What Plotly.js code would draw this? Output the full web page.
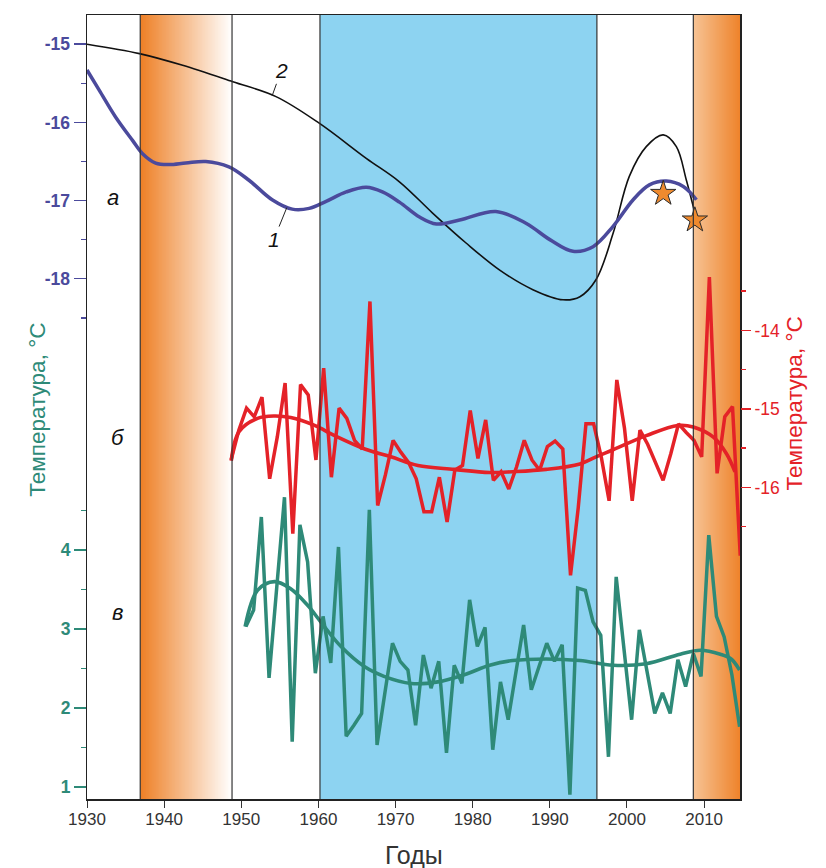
<!DOCTYPE html>
<html><head><meta charset="utf-8">
<script src="https://cdn.plot.ly/plotly-3.0.1.min.js"></script>
<style>html,body{margin:0;padding:0;background:#fff}#chart{width:826px;height:868px}</style>
</head><body><div id="chart"></div>
<script>
// ---- (а) curve 1: smoothed temperature, left purple axis
const curveAYears = [1930.0, 1931.6, 1933.7, 1935.9, 1937.2, 1938.9, 1940.6, 1942.8, 1945.4, 1948.4, 1951.0, 1954.0, 1956.6, 1958.8, 1961.0, 1963.6, 1966.2, 1968.3, 1970.5, 1973.1, 1975.3, 1978.3, 1983.0, 1986.9, 1990.0, 1993.0, 1995.6, 1998.2, 2000.8, 2002.9, 2005.1, 2007.3, 2009.0];
const curveAValues = [-15.33, -15.59, -15.93, -16.23, -16.40, -16.52, -16.54, -16.52, -16.50, -16.57, -16.74, -16.99, -17.11, -17.10, -17.01, -16.89, -16.83, -16.89, -17.02, -17.21, -17.30, -17.25, -17.14, -17.29, -17.50, -17.65, -17.59, -17.33, -16.99, -16.80, -16.75, -16.82, -16.99];
// ---- (а) curve 2
const curve2Years = [1930.0, 1936.8, 1942.4, 1948.9, 1954.5, 1960.1, 1966.2, 1970.5, 1974.8, 1979.1, 1983.5, 1987.8, 1991.7, 1993.9, 1996.0, 1998.2, 2000.3, 2002.5, 2004.7, 2006.4, 2007.7, 2008.8];
const curve2Values = [-15.00, -15.12, -15.27, -15.48, -15.67, -16.01, -16.46, -16.76, -17.16, -17.54, -17.89, -18.14, -18.27, -18.23, -18.01, -17.42, -16.69, -16.31, -16.16, -16.31, -16.74, -17.16];
// ---- stars
const starYears = [2004.7, 2008.8];
const starValues = [-16.91, -17.25];
// ---- (б) annual temperature, right red axis
const redYears = [1949,1950,1951,1952,1953,1954,1955,1956,1957,1958,1959,1960,1961,1962,1963,1964,1965,1966,1967,1968,1969,1970,1971,1972,1973,1974,1975,1976,1977,1978,1979,1980,1981,1982,1983,1984,1985,1986,1987,1988,1989,1990,1991,1992,1993,1994,1995,1996,1997,1998,1999,2000,2001,2002,2003,2004,2005,2006,2007,2008,2009,2010,2011,2012,2013,2014,2015];
const redValues = [-15.65, -15.27, -14.99, -15.10, -14.85, -15.89, -15.35, -14.67, -16.59, -14.69, -14.82, -15.65, -14.48, -15.87, -14.99, -15.12, -15.40, -15.51, -13.63, -16.23, -15.84, -15.40, -15.55, -15.68, -15.89, -16.31, -16.31, -15.87, -16.44, -15.78, -15.72, -15.02, -15.63, -15.14, -15.91, -15.80, -16.02, -15.74, -15.40, -15.65, -15.78, -15.48, -15.41, -15.51, -17.12, -16.26, -15.19, -15.19, -15.62, -16.17, -14.63, -15.25, -16.17, -15.27, -15.45, -15.68, -15.91, -15.57, -15.19, -15.30, -15.40, -15.61, -13.32, -15.82, -15.10, -14.97, -16.87];
const redTrendYears = [1948.7, 1949.7, 1952.1, 1954.3, 1956.4, 1959.5, 1962.1, 1966.0, 1969.4, 1972.9, 1977.6, 1982.2, 1985.2, 1989.5, 1993.9, 1996.0, 1998.2, 2002.5, 2006.6, 2008.6, 2011.2, 2012.9, 2014.0];
const redTrendValues = [-15.66, -15.29, -15.12, -15.09, -15.11, -15.21, -15.34, -15.51, -15.61, -15.72, -15.77, -15.81, -15.80, -15.77, -15.70, -15.61, -15.52, -15.34, -15.21, -15.23, -15.36, -15.57, -15.80];
// ---- (в) annual values, left teal axis
const tealYears = [1951,1952,1953,1954,1955,1956,1957,1958,1959,1960,1961,1962,1963,1964,1965,1966,1967,1968,1969,1970,1971,1972,1973,1974,1975,1976,1977,1978,1979,1980,1981,1982,1983,1984,1985,1986,1987,1988,1989,1990,1991,1992,1993,1994,1995,1996,1997,1998,1999,2000,2001,2002,2003,2004,2005,2006,2007,2008,2009,2010,2011,2012,2013,2014,2015];
const tealValues = [3.03, 3.24, 4.42, 2.38, 3.53, 4.67, 1.57, 4.32, 3.85, 2.44, 3.16, 2.57, 4.04, 1.64, 1.78, 1.93, 4.51, 1.53, 2.18, 2.82, 2.59, 2.48, 1.78, 2.67, 2.25, 2.59, 1.43, 2.54, 2.31, 3.37, 2.78, 3.02, 1.47, 2.33, 1.85, 2.46, 3.05, 2.23, 2.52, 2.82, 2.59, 2.80, 0.90, 3.52, 3.49, 3.09, 2.92, 1.38, 3.66, 2.73, 1.85, 2.99, 2.46, 1.93, 2.19, 1.93, 2.61, 2.27, 2.69, 2.40, 4.19, 3.16, 2.90, 2.42, 1.76];
const tealTrendYears = [1950.5, 1952.1, 1954.3, 1956.4, 1958.6, 1960.3, 1962.9, 1966.0, 1968.5, 1972.0, 1975.5, 1978.9, 1982.2, 1985.2, 1989.5, 1993.9, 1998.2, 2002.5, 2006.9, 2009.5, 2012.1, 2013.5, 2014.6];
const tealTrendValues = [3.03, 3.49, 3.60, 3.51, 3.30, 3.09, 2.78, 2.52, 2.40, 2.31, 2.33, 2.42, 2.54, 2.60, 2.62, 2.60, 2.54, 2.56, 2.68, 2.73, 2.68, 2.62, 2.48];
// ---- periods (boundaries as drawn)
const warmPeriods = [[1936.9, 1948.8], [2008.6, 2015]];
const coldPeriod = [1960.2, 1996.1];
const boundaries = [1936.9, 1948.8, 1960.2, 1996.1, 2008.6];
const xTicks = [1930, 1940, 1950, 1960, 1970, 1980, 1990, 2000, 2010];

const PURPLE = '#4B4A9C', TEAL = '#2E8A78', RED = '#E42228', ORANGE = '#EE8026';
const FONT = 'Liberation Sans, Arial, sans-serif';
const redShift = -0.32, tealShift = -0.4;

function bandHeatmap(x0, x1, cStart, cEnd) {
  const n = 120, xs = [], z = [];
  for (let i = 0; i <= n; i++) xs.push(x0 + (x1 - x0) * i / n);
  for (let i = 0; i < n; i++) z.push(i / (n - 1));
  return {type: 'heatmap', x: xs, y: [-30, -10], z: [z], xaxis: 'x', yaxis: 'y',
    colorscale: [[0, cStart], [1, cEnd]], zmin: 0, zmax: 1, showscale: false, hoverinfo: 'skip', zsmooth: false};
}

const traces = [
  bandHeatmap(warmPeriods[0][0], warmPeriods[0][1], ORANGE, '#FFFFFF'),
  bandHeatmap(warmPeriods[1][0], warmPeriods[1][1], '#F6C394', ORANGE),
  {type: 'scatter', mode: 'lines', x: tealTrendYears, y: tealTrendValues, yaxis: 'y2',
   line: {color: TEAL, width: 3.6, shape: 'spline', smoothing: 1}},
  {type: 'scatter', mode: 'lines', x: tealYears.map(v => v + tealShift), y: tealValues, yaxis: 'y2',
   line: {color: TEAL, width: 3.5}},
  {type: 'scatter', mode: 'lines', x: redTrendYears, y: redTrendValues, yaxis: 'y3',
   line: {color: RED, width: 3.6, shape: 'spline', smoothing: 1}},
  {type: 'scatter', mode: 'lines', x: redYears.map(v => v + redShift), y: redValues, yaxis: 'y3',
   line: {color: RED, width: 3.5}},
  {type: 'scatter', mode: 'lines', x: curve2Years, y: curve2Values, yaxis: 'y',
   line: {color: '#111', width: 1.6, shape: 'spline', smoothing: 1}},
  {type: 'scatter', mode: 'lines', x: curveAYears, y: curveAValues, yaxis: 'y',
   line: {color: PURPLE, width: 3.5, shape: 'spline', smoothing: 1}},
  {type: 'scatter', mode: 'markers', x: starYears, y: starValues, yaxis: 'y',
   marker: {symbol: 'star', size: 19, color: '#EF8A2E', line: {color: '#2a2a2a', width: 1}}}
];

const shapes = [
  {type: 'rect', xref: 'x', yref: 'paper', x0: coldPeriod[0], x1: coldPeriod[1], y0: 0, y1: 1,
   fillcolor: '#8DD3F1', line: {width: 0}, layer: 'below'}
];
boundaries.forEach(b => shapes.push({type: 'line', xref: 'x', yref: 'paper', x0: b, x1: b, y0: 0, y1: 1,
  line: {color: '#333', width: 1.2}, layer: 'above'}));

const lbl = (text, x, y) => ({text: text, x: x, y: y, xref: 'x', yref: 'paper', showarrow: false,
  font: {family: FONT, size: 22, color: '#111'}});

const annotations = [
  lbl('<i>а</i>', 1933.4, 0.786),
  lbl('<i>б</i>', 1934.0, 0.4605),
  lbl('<i>в</i>', 1934.0, 0.22),
  {text: '<i>2</i>', x: 1954.0, y: -15.66, xref: 'x', yref: 'y', showarrow: true, arrowhead: 0, arrowwidth: 1,
   arrowcolor: '#222', ax: 9, ay: -25, standoff: 0, font: {family: FONT, size: 21, color: '#111'}},
  {text: '<i>1</i>', x: 1955.9, y: -17.09, xref: 'x', yref: 'y', showarrow: true, arrowhead: 0, arrowwidth: 1,
   arrowcolor: '#222', ax: -13, ay: 32, standoff: 0, font: {family: FONT, size: 21, color: '#111'}},
  {text: 'Температура, °C', textangle: -90, x: -0.098, y: 0.496, xref: 'paper', yref: 'paper', showarrow: false,
   font: {family: FONT, size: 22.5, color: TEAL}},
  {text: 'Температура, °C', textangle: -90, x: 1.1057, y: 0.504, xref: 'paper', yref: 'paper', showarrow: false,
   font: {family: FONT, size: 22.5, color: RED}},
  {text: 'Годы', x: 0.5, y: -0.0714, xref: 'paper', yref: 'paper', showarrow: false, yanchor: 'middle',
   font: {family: FONT, size: 25, color: '#333'}}
];

const layout = {
  width: 826, height: 868,
  margin: {l: 87, r: 86, t: 15, b: 69},
  paper_bgcolor: '#fff', plot_bgcolor: '#fff',
  showlegend: false,
  font: {family: FONT},
  xaxis: {range: [1930, 2014.65], tickvals: xTicks, ticktext: xTicks.map(String), ticks: 'outside', ticklen: 7,
    tickwidth: 1, tickcolor: '#333', showline: true, mirror: true, linecolor: '#222', linewidth: 1.5,
    ticklabelstandoff: -3,
    showgrid: false, zeroline: false, tickfont: {family: FONT, size: 17, color: '#333'}},
  yaxis: {range: [-24.657, -14.626], tickvals: [-15, -16, -17, -18], ticktext: ['-15', '-16', '-17', '-18'],
    ticks: 'outside', ticklen: 12, tickwidth: 1.5, tickcolor: PURPLE,
    minor: {tickvals: [-15.5, -16.5, -17.5, -18.5], ticks: 'outside', ticklen: 5, tickwidth: 1.5, tickcolor: PURPLE},
    showline: true, mirror: true, linecolor: '#222', linewidth: 1.5, showgrid: false, zeroline: false,
    tickfont: {family: FONT, size: 17.5, color: PURPLE, weight: 'bold'}},
  yaxis2: {overlaying: 'y', side: 'left', range: [0.845, 10.783], tickvals: [1, 2, 3, 4],
    ticks: 'outside', ticklen: 12, tickwidth: 1.5, tickcolor: TEAL,
    minor: {tickvals: [1.5, 2.5, 3.5, 4.5], ticks: 'outside', ticklen: 5, tickwidth: 1.5, tickcolor: TEAL},
    showline: false, showgrid: false, zeroline: false,
    tickfont: {family: FONT, size: 17.5, color: TEAL, weight: 'bold'}},
  yaxis3: {overlaying: 'y', side: 'right', range: [-19.97, -9.98], tickvals: [-14, -15, -16], ticktext: ['-14', '-15', '-16'],
    ticks: 'outside', ticklen: 10, tickwidth: 1.5, tickcolor: RED,
    minor: {tickvals: [-13.5, -14.5, -15.5, -16.5], ticks: 'outside', ticklen: 5, tickwidth: 1.5, tickcolor: RED},
    showline: false, showgrid: false, zeroline: false,
    tickfont: {family: FONT, size: 17.5, color: RED}},
  shapes: shapes,
  annotations: annotations
};

Plotly.newPlot('chart', traces, layout, {displayModeBar: false, staticPlot: true});
</script></body></html>
